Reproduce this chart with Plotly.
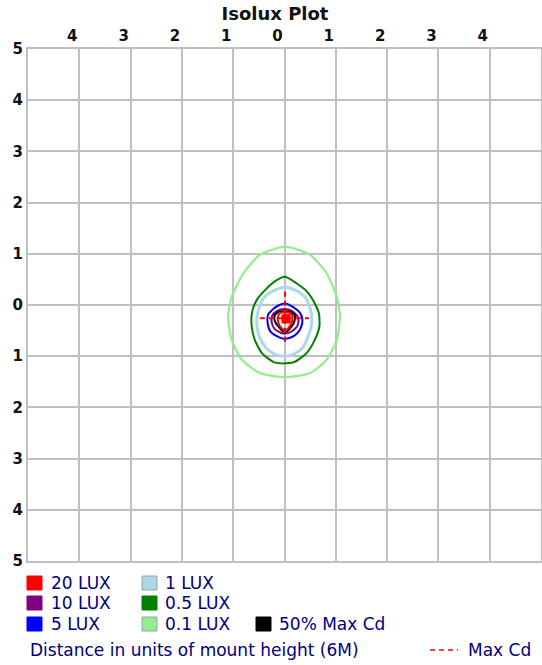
import plotly.graph_objects as go

# ---------------- data ----------------
x_ticks = [-4, -3, -2, -1, 0, 1, 2, 3, 4]
x_tick_labels = ["4", "3", "2", "1", "0", "1", "2", "3", "4"]
y_ticks = [-5, -4, -3, -2, -1, 0, 1, 2, 3, 4, 5]
y_tick_labels = ["5", "4", "3", "2", "1", "0", "1", "2", "3", "4", "5"]

# 0.1 LUX contour
lux01_x = [0.01, 0.50, 0.82, 1.02, 1.08, 1.02, 0.82, 0.50, 0.01, -0.48, -0.83, -1.03, -1.10, -1.03, -0.80, -0.48]
lux01_y = [1.14, 0.98, 0.62, 0.16, -0.23, -0.68, -1.07, -1.33, -1.41, -1.33, -1.07, -0.68, -0.23, 0.16, 0.62, 0.98]
# 0.5 LUX contour
lux05_x = [0.01, 0.24, 0.44, 0.59, 0.67, 0.68, 0.59, 0.43, 0.20, 0.01, -0.22, -0.44, -0.58, -0.64, -0.63, -0.54, -0.38, -0.19]
lux05_y = [0.55, 0.42, 0.26, 0.03, -0.16, -0.42, -0.68, -0.94, -1.11, -1.14, -1.11, -0.94, -0.68, -0.42, -0.13, 0.10, 0.29, 0.46]
# 1 LUX contour
lux1_x = [0.01, 0.27, 0.42, 0.51, 0.53, 0.46, 0.34, 0.14, 0.01, -0.15, -0.35, -0.49, -0.54, -0.51, -0.41, -0.25]
lux1_y = [0.35, 0.26, 0.13, -0.10, -0.36, -0.62, -0.85, -0.98, -1.00, -0.98, -0.85, -0.62, -0.36, -0.10, 0.13, 0.26]
# 5 LUX contour
lux5_x = [0.01, 0.17, 0.30, 0.35, 0.32, 0.24, 0.11, -0.02, -0.15, -0.28, -0.33, -0.32, -0.22, -0.12]
lux5_y = [0.03, -0.04, -0.15, -0.29, -0.44, -0.56, -0.64, -0.66, -0.61, -0.51, -0.34, -0.19, -0.08, -0.01]
# 10 LUX contour
lux10_x = [0.00, 0.15, 0.26, 0.27, 0.20, 0.07, -0.05, -0.19, -0.25, -0.24, -0.15]
lux10_y = [-0.08, -0.12, -0.23, -0.36, -0.47, -0.55, -0.55, -0.47, -0.34, -0.21, -0.12]
# 50% Max Cd contour
cd50_x = [0.00, 0.11, 0.20, 0.19, 0.14, 0.04, -0.02, -0.12, -0.19, -0.19, -0.11]
cd50_y = [-0.12, -0.13, -0.20, -0.33, -0.42, -0.52, -0.52, -0.42, -0.31, -0.20, -0.13]
# 20 LUX contour
lux20_x = [0.00, 0.11, 0.16, 0.14, 0.07, 0.01, -0.07, -0.12, -0.13, -0.09]
lux20_y = [-0.14, -0.16, -0.23, -0.34, -0.46, -0.49, -0.44, -0.34, -0.23, -0.16]
# small filled peak region
peak_x = [-0.05, 0.11, 0.11, -0.05]
peak_y = [-0.19, -0.19, -0.35, -0.35]
# Max Cd crosshair
maxcd_x = 0.01
maxcd_y = -0.26
maxcd_h = [-0.48, 0.48]
maxcd_v = [0.26, -0.78]

legend_labels = [["20 LUX", "10 LUX", "5 LUX"], ["1 LUX", "0.5 LUX", "0.1 LUX"], ["", "", "50% Max Cd"]]
legend_colors = [["#ff0000", "#800080", "#0000ff"], ["#add8e6", "#008000", "#90ee90"], [None, None, "#000000"]]

# ---------------- figure ----------------
W, H = 542, 665
L, R, T, B = 28, 1, 49, 104
PW, PH = W - L - R, H - T - B


def fx(px):
    return (px - L) / PW


def fy(py):
    return (H - B - py) / PH


def closed(a):
    return list(a) + [a[0]]


fig = go.Figure()

contours = [
    (lux01_x, lux01_y, "#90ee90", 2.2),
    (lux05_x, lux05_y, "#008000", 2),
    (lux1_x, lux1_y, "#add8e6", 3),
    (lux5_x, lux5_y, "#0000ff", 2),
    (lux10_x, lux10_y, "#800080", 2),
    (cd50_x, cd50_y, "#000000", 2),
    (lux20_x, lux20_y, "#ff0000", 2),
]
for cx, cy, col, w in contours:
    fig.add_trace(go.Scatter(x=closed(cx), y=closed(cy), mode="lines",
                             line=dict(color=col, width=w, shape="spline", smoothing=0.6),
                             hoverinfo="skip", showlegend=False))

fig.add_trace(go.Scatter(x=closed(peak_x), y=closed(peak_y), mode="lines", fill="toself",
                         fillcolor="#ff0000", line=dict(color="#ff0000", width=1),
                         hoverinfo="skip", showlegend=False))

fig.add_trace(go.Scatter(x=[maxcd_h[0], maxcd_h[1], None, maxcd_x, maxcd_x],
                         y=[maxcd_y, maxcd_y, None, maxcd_v[0], maxcd_v[1]],
                         mode="lines", line=dict(color="#ff0000", width=2, dash="5px,4px"),
                         hoverinfo="skip", showlegend=False))

# legend drawn below the plot
text_font = dict(family="DejaVu Sans", size=17, color="#000080")
shapes = []
annotations = []
col_sq_x = [27, 142, 256]
col_tx_x = [51, 165, 279]
row_y = [583, 603, 624]
for c in range(3):
    for r in range(3):
        lab = legend_labels[c][r]
        if not lab:
            continue
        col = legend_colors[c][r]
        edge = "#a0a0a0" if col in ("#add8e6", "#90ee90") else col
        shapes.append(dict(type="rect", xref="paper", yref="paper",
                           x0=fx(col_sq_x[c]), x1=fx(col_sq_x[c] + 15),
                           y0=fy(row_y[r] - 7), y1=fy(row_y[r] + 7),
                           fillcolor=col, line=dict(color=edge, width=1)))
        annotations.append(dict(text=lab, xref="paper", yref="paper", x=fx(col_tx_x[c] - 2), y=fy(row_y[r]),
                                xanchor="left", yanchor="middle", showarrow=False, font=text_font))

annotations.append(dict(text="Distance in units of mount height (6M)", xref="paper", yref="paper",
                        x=fx(28), y=fy(650), xanchor="left", yanchor="middle", showarrow=False, font=text_font))
annotations.append(dict(text="Max Cd", xref="paper", yref="paper",
                        x=fx(466), y=fy(650), xanchor="left", yanchor="middle", showarrow=False, font=text_font))
shapes.append(dict(type="line", xref="paper", yref="paper", x0=fx(430), x1=fx(458), y0=fy(650), y1=fy(650),
                   line=dict(color="#ff0000", width=1.5, dash="5px,4px")))

axis_common = dict(range=[-5, 5], showgrid=True, gridcolor="#c0c0c0", gridwidth=2,
                   zeroline=True, zerolinecolor="#c0c0c0", zerolinewidth=2,
                   showline=True, linecolor="#c0c0c0", linewidth=2, mirror=True,
                   ticks="", fixedrange=True, automargin=False,
                   tickfont=dict(family="DejaVu Sans", size=15, color="#111111", weight="bold"))

fig.update_layout(
    width=W, height=H, autosize=False,
    margin=dict(l=L, r=R, t=T, b=B, pad=0),
    paper_bgcolor="white", plot_bgcolor="white",
    title=dict(text="Isolux Plot", xref="container", yref="container", x=275 / W, y=1 - 14 / H,
               xanchor="center", yanchor="middle",
               font=dict(family="DejaVu Sans", size=18, color="#111111", weight="bold")),
    xaxis=dict(side="top", tickmode="array", tickvals=x_ticks, ticktext=x_tick_labels,
               ticklabelshift=-7, **axis_common),
    yaxis=dict(tickmode="array", tickvals=y_ticks, ticktext=y_tick_labels, **axis_common),
    shapes=shapes, annotations=annotations,
)

fig.write_html("out.html", config={"displayModeBar": False},
               post_script="document.body.style.margin='0';document.body.style.overflow='hidden';")
